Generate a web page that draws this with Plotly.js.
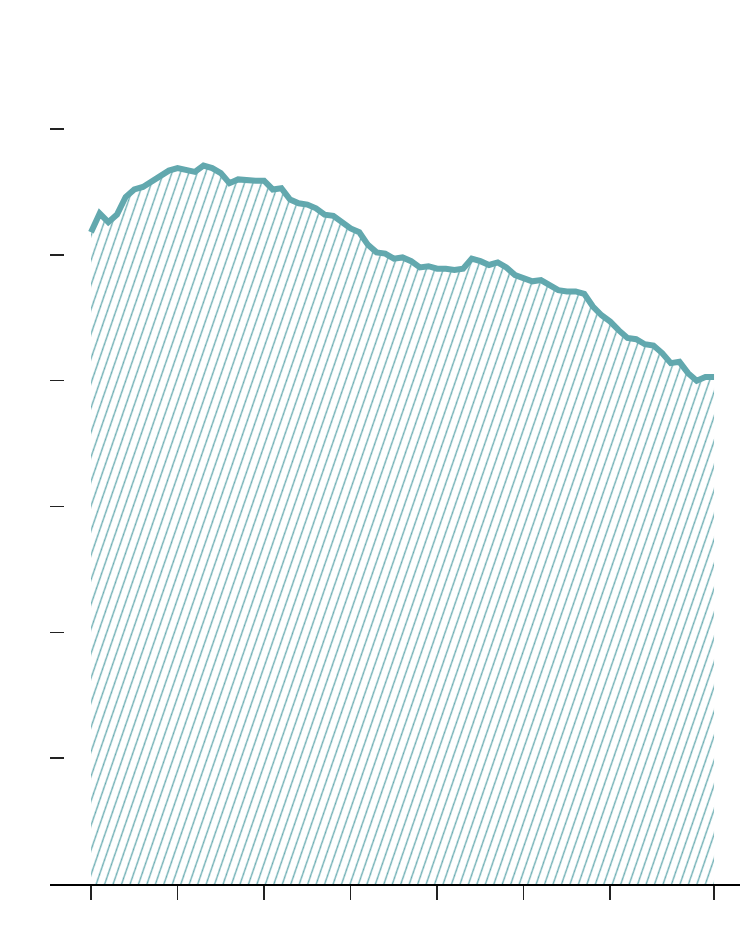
<!DOCTYPE html>
<html>
<head>
<meta charset="utf-8">
<script src="https://cdn.plot.ly/plotly-3.0.1.min.js"></script>
<style>
  html, body { margin: 0; padding: 0; background: #ffffff; }
  #chart { width: 740px; height: 930px; }
</style>
</head>
<body>
<div id="chart"></div>
<script>
// Period index (0..72)
const periods = [
  0,1,2,3,4,5,6,7,8,9,10,11,12,13,14,15,16,17,18,19,20,
  21,22,23,24,25,26,27,28,29,30,31,32,33,34,35,36,37,38,39,40,
  41,42,43,44,45,46,47,48,49,50,51,52,53,54,55,56,57,58,59,60,
  61,62,63,64,65,66,67,68,69,70,71,72
];

// Series values
const values = [
  5.18,5.33,5.26,5.32,5.46,5.52,5.54,5.58,5.62,5.67,5.69,
  5.68,5.66,5.71,5.69,5.65,5.57,5.60,5.59,5.59,5.59,
  5.52,5.53,5.44,5.41,5.40,5.37,5.32,5.31,5.26,5.21,
  5.18,5.08,5.02,5.01,4.97,4.98,4.95,4.90,4.91,4.89,
  4.89,4.88,4.89,4.97,4.95,4.92,4.94,4.90,4.84,4.81,
  4.79,4.80,4.76,4.72,4.71,4.71,4.69,4.59,4.52,4.47,
  4.40,4.34,4.33,4.29,4.28,4.22,4.14,4.15,4.06,4.00,
  4.03,4.03
];

// Tick positions (no labels drawn in the reference)
const xTickVals = [0, 10, 20, 30, 40, 50, 60, 72];
const yTickVals = [0, 1, 2, 3, 4, 5, 6];

const teal = '#62a8ae';

const trace = {
  x: periods,
  y: values,
  type: 'scatter',
  mode: 'lines',
  line: { color: teal, width: 6 },
  fill: 'tozeroy',
  fillcolor: 'rgba(0,0,0,0)',
  fillpattern: {
    shape: '/',
    size: 8.0,
    solidity: 0.16,
    fgcolor: teal,
    bgcolor: 'rgba(0,0,0,0)'
  },
  hoverinfo: 'skip'
};

const layout = {
  width: 740,
  height: 930,
  margin: { l: 50, r: 0, t: 60, b: 46 },
  paper_bgcolor: '#ffffff',
  plot_bgcolor: '#ffffff',
  showlegend: false,
  xaxis: {
    range: [-4.74, 75.0],
    tickvals: xTickVals,
    showticklabels: false,
    ticks: 'outside',
    ticklen: 14,
    tickwidth: 1.5,
    tickcolor: '#222',
    showline: true,
    linecolor: '#000',
    linewidth: 2,
    showgrid: false,
    zeroline: false
  },
  yaxis: {
    range: [0, 6.549],
    tickvals: yTickVals,
    showticklabels: false,
    ticks: 'inside',
    ticklen: 14,
    tickwidth: 1.5,
    tickcolor: '#222',
    showline: false,
    showgrid: false,
    zeroline: false
  }
};

Plotly.newPlot('chart', [trace], layout, { displayModeBar: false, staticPlot: true }).then(function () {
  // steepen the hatch direction to match the reference
  document.querySelectorAll('pattern').forEach(function (p) {
    p.setAttribute('patternTransform', 'rotate(-26)');
  });
});
</script>
</body>
</html>
